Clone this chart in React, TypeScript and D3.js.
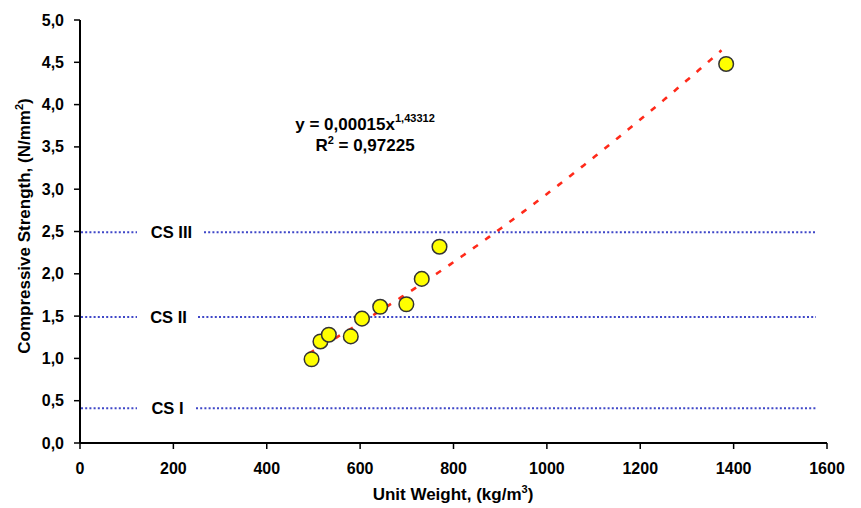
import React from "react";
import * as d3 from "d3";

const unitWeight = [496, 515, 533, 580, 604, 643, 699, 732, 770, 1384];
const strength = [0.99, 1.2, 1.28, 1.26, 1.47, 1.61, 1.64, 1.94, 2.32, 4.48];
const xTicks = [0, 200, 400, 600, 800, 1000, 1200, 1400, 1600];
const yTicks = [0, 0.5, 1, 1.5, 2, 2.5, 3, 3.5, 4, 4.5, 5];
const classLabels = ["CS I", "CS II", "CS III"];
const classLevels = [0.41, 1.49, 2.49];
const fitA = 0.00015;
const fitB = 1.43312;

const W = 861, H = 508;
const m = { left: 80, right: 827, top: 20, bottom: 443 };

export default function App() {
  const x = d3.scaleLinear().domain([0, 1600]).range([m.left, m.right]);
  const y = d3.scaleLinear().domain([0, 5]).range([m.bottom, m.top]);
  const fmt = (v: number) => v.toFixed(1).replace(".", ",");

  const trendX = d3.range(490, 1378, 4);
  const line = d3.line<number>().x((d) => x(d)).y((d) => y(fitA * Math.pow(d, fitB) * 0.985));

  const gaps = [
    [137, 196],
    [137, 198],
    [137, 204],
  ];
  const font = "'Liberation Sans', Arial, sans-serif";

  return (
    <svg width={W} height={H} style={{ position: "absolute", left: 0, top: 0, background: "#fff" }} fontFamily={font}>
      {classLevels.map((lv, i) => (
        <g key={i}>
          <line x1={x(0) + 1} x2={gaps[i][0]} y1={y(lv)} y2={y(lv)} stroke="#3f47c8" strokeWidth={2} strokeDasharray="2,2.2" />
          <line x1={gaps[i][1]} x2={816} y1={y(lv)} y2={y(lv)} stroke="#3f47c8" strokeWidth={2} strokeDasharray="2,2.2" />
          <text x={(gaps[i][0] + gaps[i][1]) / 2 + 1} y={y(lv) + 6} textAnchor="middle" fontWeight="bold" fontSize={16.5}>
            {classLabels[i]}
          </text>
        </g>
      ))}
      <path d={line(trendX) || ""} fill="none" stroke="#ff2a1a" strokeWidth={2.6} strokeDasharray="6,9" />
      {unitWeight.map((u, i) => (
        <circle key={i} cx={x(u)} cy={y(strength[i])} r={7.3} fill="#ffff00" stroke="#333" strokeWidth={1.5} />
      ))}
      {/* axes */}
      <line x1={m.left} x2={m.right} y1={m.bottom} y2={m.bottom} stroke="#000" strokeWidth={2} />
      <line x1={m.left} x2={m.left} y1={m.top} y2={m.bottom} stroke="#000" strokeWidth={2} />
      {yTicks.map((t) => (
        <g key={t}>
          <line x1={m.left - 6} x2={m.left} y1={y(t)} y2={y(t)} stroke="#000" strokeWidth={1.5} />
          <text x={64} y={y(t) + 5.5} textAnchor="end" fontWeight="bold" fontSize={16}>
            {fmt(t)}
          </text>
        </g>
      ))}
      {xTicks.map((t) => (
        <g key={t}>
          <line x1={x(t)} x2={x(t)} y1={m.bottom} y2={m.bottom + 6} stroke="#000" strokeWidth={1.5} />
          <text x={x(t)} y={474} textAnchor="middle" fontWeight="bold" fontSize={16}>
            {t}
          </text>
        </g>
      ))}
      <text x={453} y={500} textAnchor="middle" fontWeight="bold" fontSize={17}>
        Unit Weight, (kg/m<tspan dy={-7} fontSize={11}>3</tspan><tspan dy={7}>)</tspan>
      </text>
      <text transform={`translate(30,226) rotate(-90)`} textAnchor="middle" fontWeight="bold" fontSize={17}>
        Compressive Strength, (N/mm<tspan dy={-7} fontSize={11}>2</tspan><tspan dy={7}>)</tspan>
      </text>
      <text x={365} y={130} textAnchor="middle" fontWeight="bold" fontSize={17}>
        y = 0,00015x<tspan dy={-8} fontSize={11}>1,43312</tspan>
      </text>
      <text x={365} y={151} textAnchor="middle" fontWeight="bold" fontSize={17}>
        R<tspan dy={-7} fontSize={11}>2</tspan><tspan dy={7}> = 0,97225</tspan>
      </text>
    </svg>
  );
}
